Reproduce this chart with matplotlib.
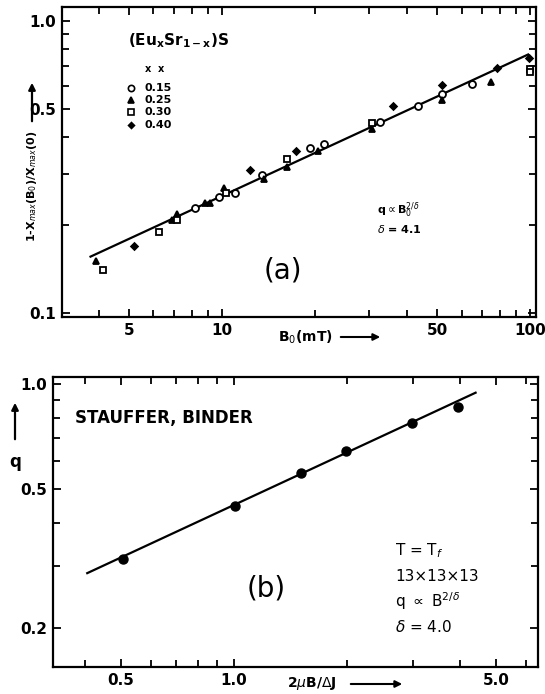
import numpy as np
import matplotlib
matplotlib.use("Agg")
import matplotlib.pyplot as plt
from matplotlib.ticker import LogLocator, FixedLocator, FixedFormatter, NullFormatter

W, H = 545, 694

# ---- panel (a): (Eu_x Sr_1-x)S data ----
x015 = [8.2, 9.8, 11.0, 13.5, 19.4, 21.4, 32.6, 43.2, 51.9, 64.9]
y015 = [0.229, 0.249, 0.258, 0.298, 0.366, 0.378, 0.450, 0.513, 0.564, 0.608]
x025 = [3.91, 6.87, 7.15, 8.82, 9.17, 10.2, 13.7, 16.3, 20.5, 30.7, 51.9, 75.0]
y025 = [0.151, 0.208, 0.219, 0.239, 0.239, 0.269, 0.288, 0.317, 0.359, 0.427, 0.535, 0.616]
x030 = [4.12, 6.27, 7.15, 10.3, 16.3, 30.7, 99.8, 99.8]
y030 = [0.140, 0.189, 0.208, 0.258, 0.338, 0.446, 0.686, 0.671]
x040 = [5.19, 12.3, 17.4, 35.9, 51.9, 78.3, 99.2]
y040 = [0.170, 0.308, 0.359, 0.513, 0.603, 0.689, 0.746]
fit_a_x = [3.75, 98.6]
fit_a_y = [0.156, 0.768]
xticks_a = [5, 10, 50, 100]
yticks_a = [0.1, 0.5, 1.0]

# ---- panel (b): Stauffer, Binder ----
xb = [0.506, 1.006, 1.51, 1.99, 2.98, 3.97]
yb = [0.315, 0.446, 0.554, 0.641, 0.773, 0.861]
fit_b_x = [0.406, 4.41]
fit_b_y = [0.287, 0.944]
xticks_b = [0.5, 1.0, 5.0]
yticks_b = [0.2, 0.5, 1.0]


def rect(left, top, right, bottom):
    # pixel box -> figure fraction rect
    return [left / W, 1 - bottom / H, (right - left) / W, (bottom - top) / H]


def px(x, y):
    return (x / W, 1 - y / H)


def style_axes(ax, xticks, xlabels, yticks, ylabels):
    ax.set_xscale("log")
    ax.set_yscale("log")
    for s in ax.spines.values():
        s.set_linewidth(1.6)
    ax.xaxis.set_major_locator(FixedLocator(xticks))
    ax.xaxis.set_major_formatter(FixedFormatter(xlabels))
    ax.yaxis.set_major_locator(FixedLocator(yticks))
    ax.yaxis.set_major_formatter(FixedFormatter(ylabels))
    ax.xaxis.set_minor_locator(LogLocator(base=10, subs=np.arange(1, 10)))
    ax.yaxis.set_minor_locator(LogLocator(base=10, subs=np.arange(1, 10)))
    ax.xaxis.set_minor_formatter(NullFormatter())
    ax.yaxis.set_minor_formatter(NullFormatter())
    ax.tick_params(which="both", direction="in", top=True, right=True, width=1.3)
    ax.tick_params(which="major", length=6, labelsize=11, pad=4)
    ax.tick_params(which="minor", length=5)
    for lab in ax.get_xticklabels() + ax.get_yticklabels():
        lab.set_fontweight("bold")


def arrow(ax, start, end, lw=1.5):
    ax.annotate("", xy=px(*end), xytext=px(*start), xycoords="figure fraction",
                textcoords="figure fraction",
                arrowprops=dict(arrowstyle="-|>", color="k", lw=lw, mutation_scale=10))


fig = plt.figure(figsize=(W / 100, H / 100), dpi=100)

# panel (a)
ax1 = fig.add_axes(rect(62, 7, 536, 317))
ax1.plot(fit_a_x, fit_a_y, color="k", lw=1.6)
mk = dict(ls="none", color="k", mew=1.3)
ax1.plot(x015, y015, marker="o", ms=5, mfc="white", **mk)
ax1.plot(x025, y025, marker="^", ms=5, mfc="k", **mk)
ax1.plot(x030, y030, marker="s", ms=5, mfc="white", **mk)
ax1.plot(x040, y040, marker="D", ms=3.5, mfc="k", **mk)
ax1.set_xlim(3.03, 104.6)
ax1.set_ylim(0.0969, 1.117)
style_axes(ax1, xticks_a, ["5", "10", "50", "100"], yticks_a, ["0.1", "0.5", "1.0"])

ax1.text(0.14, 0.875, r"(Eu$_{\mathbf{x}}$Sr$_{\mathbf{1-x}}$)S", transform=ax1.transAxes,
         fontsize=11, fontweight="bold")
ax1.text(0.175, 0.79, "x  x", transform=ax1.transAxes, fontsize=7, fontweight="bold")
leg_markers = [("o", "white", 4.5), ("^", "k", 4.5), ("s", "white", 4.5), ("D", "k", 3)]
leg_labels = ["0.15", "0.25", "0.30", "0.40"]
for i, ((m, fc, s), lab) in enumerate(zip(leg_markers, leg_labels)):
    yy = 0.74 - i * 0.04
    ax1.plot([0.145], [yy], marker=m, ms=s, mfc=fc, mec="k", mew=1.2, color="k",
             transform=ax1.transAxes, clip_on=False)
    ax1.text(0.175, yy, lab, transform=ax1.transAxes, fontsize=8, fontweight="bold",
             va="center")

ax1.text(0.665, 0.33, r"q$\propto$B$_0^{2/\delta}$", transform=ax1.transAxes,
         fontsize=8, fontweight="bold")
ax1.text(0.665, 0.27, r"$\delta$ = 4.1", transform=ax1.transAxes, fontsize=8,
         fontweight="bold")
ax1.text(0.465, 0.15, "(a)", transform=ax1.transAxes, fontsize=20, ha="center",
         va="center")

fig.text(*px(305, 337), r"B$_0$(mT)", fontsize=10, fontweight="bold", ha="center",
         va="center")
arrow(ax1, (338, 337), (383, 337))
fig.text(*px(32, 186), r"1-X$_{max}$(B$_0$)/X$_{max}$(0)", fontsize=8,
         fontweight="bold", rotation=90, ha="center", va="center")
arrow(ax1, (32, 124), (32, 80), lw=1.6)

# panel (b)
ax2 = fig.add_axes(rect(53, 377, 538, 667))
ax2.plot(fit_b_x, fit_b_y, color="k", lw=1.6)
ax2.plot(xb, yb, ls="none", marker="o", ms=6.5, color="k")
ax2.set_xlim(0.329, 6.47)
ax2.set_ylim(0.1545, 1.047)
style_axes(ax2, xticks_b, ["0.5", "1.0", "5.0"], yticks_b, ["0.2", "0.5", "1.0"])

ax2.text(0.045, 0.84, "STAUFFER, BINDER", transform=ax2.transAxes, fontsize=12,
         fontweight="bold")
ax2.text(0.44, 0.27, "(b)", transform=ax2.transAxes, fontsize=20, ha="center",
         va="center")
info_b = ["T = T$_f$", "13×13×13", r"q $\propto$ B$^{2/\delta}$", r"$\delta$ = 4.0"]
for i, t in enumerate(info_b):
    ax2.text(0.705, 0.40 - i * 0.087, t, transform=ax2.transAxes, fontsize=11,
             va="center")

fig.text(*px(312, 684), r"2$\mu$B/$\Delta$J", fontsize=10, fontweight="bold",
         ha="center", va="center")
arrow(ax2, (348, 684), (405, 684))
fig.text(*px(15, 462), "q", fontsize=12, fontweight="bold", ha="center", va="center")
arrow(ax2, (15, 442), (15, 400), lw=1.6)

fig.savefig("out.png", dpi=100)
